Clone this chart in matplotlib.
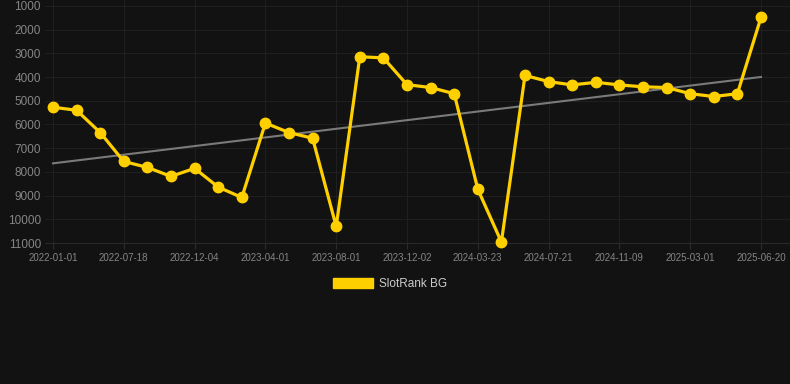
import numpy as np
import matplotlib.pyplot as plt
from matplotlib.patches import Patch

plt.rcParams['font.family'] = ['Liberation Sans', 'DejaVu Sans']

# rank per observation (31 points, category axis)
ranks = [5270, 5400, 6340, 7560, 7810, 8190, 7850, 8640, 9080, 5940,
         6340, 6580, 10300, 3140, 3190, 4320, 4440, 4700, 8730, 10960,
         3930, 4190, 4330, 4220, 4330, 4410, 4440, 4700, 4820, 4700, 1480]
tick_labels = ["2022-01-01", "2022-07-18", "2022-12-04", "2023-04-01",
               "2023-08-01", "2023-12-02", "2024-03-23", "2024-07-21",
               "2024-11-09", "2025-03-01", "2025-06-20"]
y_ticks = [1000, 2000, 3000, 4000, 5000, 6000, 7000, 8000, 9000, 10000, 11000]
series_name = "SlotRank BG"

bg = "#121212"
yellow = "#FFD000"

fig = plt.figure(figsize=(7.9, 3.84), dpi=100)
fig.patch.set_facecolor(bg)
ax = fig.add_axes([45 / 790, 1 - 243 / 384, 1 - 45 / 790, 243 / 384])
ax.set_facecolor(bg)

x = np.arange(len(ranks))
# trend line (linear fit)
k, b = np.polyfit(x, ranks, 1)
ax.plot([x[0], x[-1]], [k * x[0] + b, k * x[-1] + b], color="#7a7a7a", lw=1.5, zorder=2)
ax.plot(x, ranks, color=yellow, lw=2.3, marker="o", ms=7.5, zorder=3, clip_on=False)

ax.set_xlim(-8 / 23.6, 30 + 29 / 23.6)
ax.set_ylim(11000, 1000 - 6 / 0.02373)
ax.set_yticks(y_ticks)
ax.set_yticklabels([str(v) for v in y_ticks])
ax.set_xticks(x[::3])
ax.set_xticklabels(tick_labels)

ax.grid(True, color="#1f1f1f", lw=0.8)
ax.set_axisbelow(True)
for s in ax.spines.values():
    s.set_visible(False)
ax.spines["bottom"].set_visible(True)
ax.spines["bottom"].set_color("#292929")
ax.spines["bottom"].set_linewidth(0.8)
ax.tick_params(axis="y", length=0, pad=3, labelsize=8.5, labelcolor="#858585")
ax.tick_params(axis="x", length=4, color="#2c2c2c", pad=3, labelsize=7, labelcolor="#858585")

handle = Patch(facecolor=yellow, edgecolor=yellow)
leg = fig.legend([handle], [series_name], loc="center", bbox_to_anchor=(390 / 790, 1 - 284 / 384),
                 frameon=False, fontsize=8.5, handlelength=3.4, handleheight=1.0, handletextpad=0.5)
for t in leg.get_texts():
    t.set_color("#cccccc")

fig.savefig("out.png", dpi=100, facecolor=bg)
